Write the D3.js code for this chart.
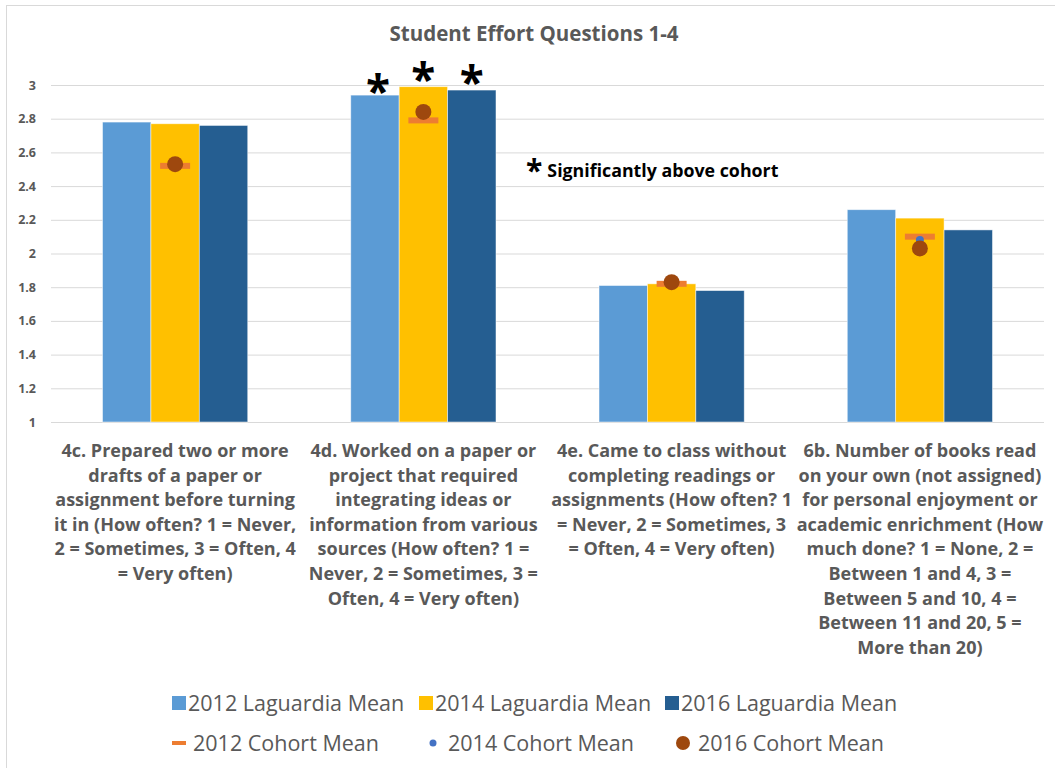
<!DOCTYPE html>
<html>
<head>
<meta charset="utf-8">
<script src="https://cdn.jsdelivr.net/npm/d3@7"></script>
<style>
  body { margin: 0; background: #fff; }
  svg { font-family: "Open Sans", "Noto Sans", sans-serif; }
</style>
</head>
<body>
<div id="chart"></div>
<script>
// categories, each split into its wrapped lines
const categories = [
  ["4c. Prepared two or more", "drafts of a paper or", "assignment before turning", "it in (How often? 1 = Never,", "2 = Sometimes, 3 = Often, 4", "= Very often)"],
  ["4d. Worked on a paper or", "project that required", "integrating ideas or", "information from various", "sources (How often? 1 =", "Never, 2 = Sometimes, 3 =", "Often, 4 = Very often)"],
  ["4e. Came to class without", "completing readings or", "assignments (How often? 1", "= Never, 2 = Sometimes, 3", "= Often, 4 = Very often)"],
  ["6b. Number of books read", "on your own (not assigned)", "for personal enjoyment or", "academic enrichment (How", "much done? 1 = None, 2 =", "Between 1 and 4, 3 =", "Between 5 and 10, 4 =", "Between 11 and 20, 5 =", "More than 20)"]
];
const barSeries = ["2012 Laguardia Mean", "2014 Laguardia Mean", "2016 Laguardia Mean"];
const lag2012 = [2.78, 2.94, 1.81, 2.26];
const lag2014 = [2.77, 2.99, 1.82, 2.21];
const lag2016 = [2.76, 2.97, 1.78, 2.14];
const cohortSeries = ["2012 Cohort Mean", "2014 Cohort Mean", "2016 Cohort Mean"];
const coh2012 = [2.52, 2.79, 1.82, 2.10];
const coh2014 = [2.53, 2.84, 1.83, 2.08];
const coh2016 = [2.53, 2.84, 1.83, 2.03];
// asterisk flags (significantly above cohort), per category per bar series
const sig = [[0, 0, 0], [1, 1, 1], [0, 0, 0], [0, 0, 0]];
const yTicks = [1, 1.2, 1.4, 1.6, 1.8, 2, 2.2, 2.4, 2.6, 2.8, 3];

const W = 1055, H = 768;
const BAR_COLORS = ["#5B9BD5", "#FFC000", "#255E91"];
const COH_COLORS = ["#ED7D31", "#4472C4", "#9E480E"];
const GREY = "#595959";

window.onload = function() {
  let svg = d3.select("#chart").append("svg").attr("width", W).attr("height", H);

  svg.append("rect")
    .attr("x", 6.5).attr("y", 5.5).attr("width", W + 10).attr("height", H + 10)
    .attr("fill", "#fff").attr("stroke", "#d9d9d9");

  let x0 = d3.scaleBand().domain(d3.range(categories.length))
    .range([51, 1044]).paddingInner(0.415).paddingOuter(0.2075);
  let x1 = d3.scaleBand().domain(d3.range(barSeries.length)).range([0, x0.bandwidth()]);
  let y = d3.scaleLinear().domain([1, 3]).range([422, 85]);

  // grid + y axis
  let yAxis = svg.append("g").attr("transform", "translate(51,0)")
    .call(d3.axisLeft(y).tickValues(yTicks).tickSize(-993).tickPadding(15).tickFormat(d3.format("~g")));
  yAxis.select(".domain").remove();
  yAxis.selectAll("line").attr("stroke", "#d9d9d9");
  yAxis.selectAll("text").attr("fill", GREY).attr("font-size", 12.5).attr("font-weight", "bold")
    .attr("font-family", "'Open Sans', sans-serif");

  let rows = categories.map((c, i) => [lag2012[i], lag2014[i], lag2016[i]]);

  let groups = svg.append("g").selectAll("g.group")
    .data(rows).enter().append("g").attr("class", "group")
    .attr("transform", (d, i) => "translate(" + x0(i) + ",0)");

  groups.selectAll("rect")
    .data(d => d).enter().append("rect")
    .attr("x", (d, j) => x1(j))
    .attr("y", d => y(d))
    .attr("width", x1.bandwidth())
    .attr("height", d => y(1) - y(d))
    .attr("fill", (d, j) => BAR_COLORS[j])
    .attr("stroke", "#fff").attr("stroke-opacity", 0.6).attr("stroke-width", 0.8);

  // asterisks
  groups.each(function(d, i) {
    d3.select(this).selectAll("text.star")
      .data(d.map((v, j) => ({ v: v, j: j, s: sig[i][j] })).filter(e => e.s))
      .enter().append("text").attr("class", "star")
      .attr("x", e => x1(e.j) + x1.bandwidth() / 2 + (e.j === 0 ? 3 : 0))
      .attr("y", e => y(e.v) + 8 + (e.j === 0 ? 4 : 0))
      .attr("text-anchor", "middle")
      .attr("font-size", 44).attr("font-weight", "bold").attr("fill", "#000")
      .text("*");
  });

  // cohort markers
  let cx = i => x0(i) + x0.bandwidth() / 2;
  let marks = svg.append("g");
  marks.selectAll("rect.c2012").data(coh2012).enter().append("rect").attr("class", "c2012")
    .attr("x", (d, i) => cx(i) - 15).attr("y", d => y(d) - 3)
    .attr("width", 30).attr("height", 6).attr("fill", COH_COLORS[0]);
  marks.selectAll("circle.c2014").data(coh2014).enter().append("circle").attr("class", "c2014")
    .attr("cx", (d, i) => cx(i)).attr("cy", d => y(d)).attr("r", 4).attr("fill", COH_COLORS[1]);
  marks.selectAll("circle.c2016").data(coh2016).enter().append("circle").attr("class", "c2016")
    .attr("cx", (d, i) => cx(i)).attr("cy", d => y(d)).attr("r", 8).attr("fill", COH_COLORS[2]);

  // category labels
  let labels = svg.append("g").selectAll("text.cat")
    .data(categories).enter().append("text").attr("class", "cat")
    .attr("text-anchor", "middle").attr("fill", GREY)
    .attr("font-size", 18).attr("font-weight", "bold");
  labels.selectAll("tspan").data((d, i) => d.map(l => ({ l: l, i: i }))).enter()
    .append("tspan")
    .attr("x", d => cx(d.i))
    .attr("y", (d, k) => 457 + k * 24.6)
    .text(d => d.l);

  // title
  svg.append("text").attr("x", 534).attr("y", 41).attr("text-anchor", "middle")
    .attr("font-size", 20.5).attr("font-weight", "bold").attr("fill", GREY)
    .text("Student Effort Questions 1-4");

  // significance note
  let note = svg.append("text").attr("x", 526).attr("y", 177)
    .attr("font-weight", "bold").attr("fill", "#000");
  note.append("tspan").attr("font-size", 30).attr("dy", 4).text("*");
  note.append("tspan").attr("font-size", 17.8).attr("dy", -4).attr("dx", 5).text("Significantly above cohort");

  // legend
  let leg = svg.append("g").attr("font-size", 21.5).attr("fill", GREY);
  let legX = [172, 419, 665];
  barSeries.forEach((s, j) => {
    leg.append("rect").attr("x", legX[j]).attr("y", 696).attr("width", 14).attr("height", 14).attr("fill", BAR_COLORS[j]);
    leg.append("text").attr("x", legX[j] + 16).attr("y", 711).text(s);
  });
  let legX2 = [172, 427, 677];
  leg.append("rect").attr("x", legX2[0]).attr("y", 741).attr("width", 14).attr("height", 4).attr("fill", COH_COLORS[0]);
  leg.append("circle").attr("cx", legX2[1] + 6).attr("cy", 743).attr("r", 3.5).attr("fill", COH_COLORS[1]);
  leg.append("circle").attr("cx", legX2[2] + 6).attr("cy", 743).attr("r", 7).attr("fill", COH_COLORS[2]);
  cohortSeries.forEach((s, j) => {
    leg.append("text").attr("x", legX2[j] + 21).attr("y", 751).text(s);
  });
};
</script>
</body>
</html>
